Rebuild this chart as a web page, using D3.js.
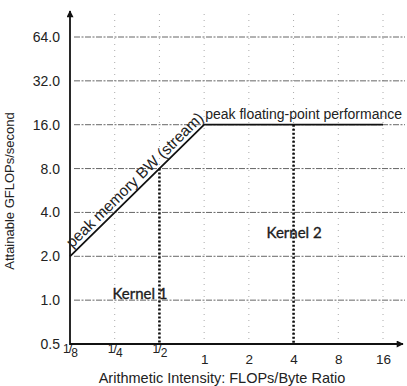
<!DOCTYPE html>
<html>
<head>
<meta charset="utf-8">
<script src="https://cdn.jsdelivr.net/npm/d3@7"></script>
<style>
  body { margin: 0; background: #fff; }
  text { font-family: "Liberation Sans", Arial, sans-serif; fill: #222; }
</style>
</head>
<body>
<script>
    "use strict";
    const width = 407;
    const height = 386;

    // axis ticks
    const xTicks = [1 / 8, 1 / 4, 1 / 2, 1, 2, 4, 8, 16];
    const xTickLabels = [["1", "8"], ["1", "4"], ["1", "2"], "1", "2", "4", "8", "16"];
    const yTicks = [0.5, 1, 2, 4, 8, 16, 32, 64];
    const yTickLabels = ["0.5", "1.0", "2.0", "4.0", "8.0", "16.0", "32.0", "64.0"];

    // roofline: memory bound slope then compute ceiling
    const roofIntensity = [1 / 8, 1, 16];
    const roofGflops = [2, 16, 16];

    // kernels
    const kernelNames = ["Kernel 1", "Kernel 2"];
    const kernelIntensity = [1 / 2, 4];

    const x = d3.scaleLog().base(2).domain([1 / 8, 16]).range([70, 383]);
    const y = d3.scaleLog().base(2).domain([0.5, 64]).range([344, 37]);

    const svg = d3.select("body").append("svg")
        .attr("width", width).attr("height", height);

    // arrow head
    svg.append("defs").append("marker")
        .attr("id", "arrow").attr("viewBox", "0 0 10 10")
        .attr("refX", 9).attr("refY", 5)
        .attr("markerWidth", 10).attr("markerHeight", 7)
        .attr("markerUnits", "userSpaceOnUse")
        .attr("orient", "auto")
        .append("path").attr("d", "M0,0 L10,5 L0,10 Z").attr("fill", "#111");

    // vertical grid
    svg.append("g").selectAll("line").data(xTicks.slice(1)).enter()
        .append("line")
        .attr("x1", d => x(d)).attr("x2", d => x(d))
        .attr("y1", 14).attr("y2", y(0.5))
        .attr("stroke", "#aaa").attr("stroke-width", 1)
        .attr("stroke-dasharray", "1,5");

    // horizontal grid
    svg.append("g").selectAll("line").data(yTicks.slice(1)).enter()
        .append("line")
        .attr("x1", x(1 / 8) + 4).attr("x2", 405)
        .attr("y1", d => y(d)).attr("y2", d => y(d))
        .attr("stroke", "#666").attr("stroke-width", 1)
        .attr("stroke-dasharray", "6,1.5,2,1.5");

    // axes
    const yAxis = d3.axisLeft(y).tickValues(yTicks).tickSize(0).tickPadding(10)
        .tickFormat((d, i) => yTickLabels[i]);
    svg.append("g").attr("transform", "translate(" + x(1 / 8) + ",0)")
        .call(yAxis)
        .call(g => g.select(".domain").remove())
        .selectAll("text")
        .style("font-family", "Liberation Sans, Arial, sans-serif")
        .style("font-size", "14px").attr("fill", "#222");

    const xAxis = d3.axisBottom(x).tickValues(xTicks).tickSize(0).tickPadding(10)
        .tickFormat("");
    const xg = svg.append("g").attr("transform", "translate(0," + y(0.5) + ")")
        .call(xAxis)
        .call(g => g.select(".domain").remove());
    xg.selectAll(".tick text").each(function (d, i) {
        const t = d3.select(this)
            .style("font-family", "Liberation Sans, Arial, sans-serif")
            .style("font-size", "13.5px").attr("fill", "#222");
        const lab = xTickLabels[i];
        if (Array.isArray(lab)) {
            t.append("tspan").text(lab[0]).attr("font-size", "12px").attr("dy", "-1");
            t.append("tspan").text("/").attr("font-size", "13px").attr("dx", "-1");
            t.append("tspan").text(lab[1]).attr("font-size", "12px").attr("dy", "4").attr("dx", "-1");
        } else {
            t.text(lab);
        }
    });

    svg.append("line")
        .attr("x1", x(1 / 8)).attr("x2", 403)
        .attr("y1", y(0.5)).attr("y2", y(0.5))
        .attr("stroke", "#111").attr("stroke-width", 1.8)
        .attr("marker-end", "url(#arrow)");
    svg.append("line")
        .attr("x1", x(1 / 8)).attr("x2", x(1 / 8))
        .attr("y1", y(0.5) + 1).attr("y2", 11)
        .attr("stroke", "#111").attr("stroke-width", 1.8)
        .attr("marker-end", "url(#arrow)");

    // axis titles
    svg.append("text")
        .attr("transform", "translate(14," + 191 + ") rotate(-90)")
        .attr("text-anchor", "middle").style("font-size", "13px")
        .text("Attainable GFLOPs/second");
    svg.append("text")
        .attr("x", 222).attr("y", 383)
        .attr("text-anchor", "middle").style("font-size", "14.5px")
        .text("Arithmetic Intensity: FLOPs/Byte Ratio");

    // roofline
    const roof = roofIntensity.map((d, i) => [d, roofGflops[i]]);
    svg.append("path").datum(roof)
        .attr("d", d3.line().x(d => x(d[0])).y(d => y(d[1])))
        .attr("fill", "none").attr("stroke", "#111").attr("stroke-width", 1.8);

    // roof labels
    const p0 = [x(roof[0][0]), y(roof[0][1])];
    const p1 = [x(roof[1][0]), y(roof[1][1])];
    const angle = Math.atan2(p1[1] - p0[1], p1[0] - p0[0]) * 180 / Math.PI;
    svg.append("text")
        .attr("transform", "translate(" + p0[0] + "," + p0[1] + ") rotate(" + angle + ")")
        .attr("x", 7).attr("y", -4)
        .style("font-size", "15.5px")
        .text("peak memory BW (stream)");
    svg.append("text")
        .attr("x", p1[0] + 1).attr("y", p1[1] - 6)
        .style("font-size", "14px")
        .text("peak floating-point performance");

    // attainable performance for a kernel
    const attain = ai => d3.min([roofGflops[2], roofGflops[0] * ai / roofIntensity[0]]);

    // kernel lines
    svg.append("g").selectAll("line").data(kernelIntensity).enter()
        .append("line")
        .attr("x1", d => x(d)).attr("x2", d => x(d))
        .attr("y1", d => y(attain(d))).attr("y2", y(0.5))
        .attr("stroke", "#111").attr("stroke-width", 2.6)
        .attr("stroke-dasharray", "2,2");

    // kernel labels
    svg.selectAll(".klabel").data(kernelNames).enter()
        .append("text").attr("class", "klabel")
        .attr("x", (d, i) => x(kernelIntensity[i]) - (i === 0 ? 47 : 27))
        .attr("y", (d, i) => i === 0 ? y(1) - 1 : y(2.9) + 5)
        .style("font-family", "Lato, 'Open Sans', sans-serif")
        .style("font-size", "15px").attr("fill", "#1a1a1a")
        .attr("stroke", "#1a1a1a").attr("stroke-width", 0.35)
        .text(d => d);
</script>
</body>
</html>
